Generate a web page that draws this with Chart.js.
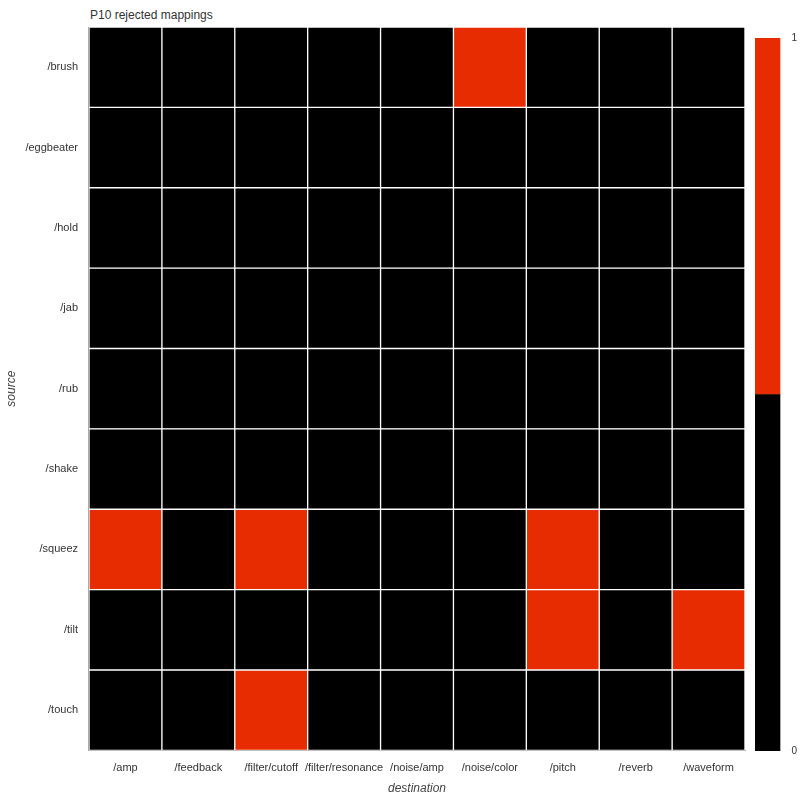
<!DOCTYPE html>
<html><head><meta charset="utf-8">
<script src="https://cdn.jsdelivr.net/npm/chart.js@4/dist/chart.umd.min.js"></script>
<style>
body{margin:0;background:#fff;font-family:"Liberation Sans",Arial,sans-serif}
#wrap{position:absolute;left:0;top:0;width:750px;height:800px}
#cbWrap{position:absolute;left:745px;top:0;width:55px;height:800px}
#title{position:absolute;left:90px;top:8px;font-size:12px;color:#333}
</style></head><body>
<div id="title">P10 rejected mappings</div>
<div id="wrap"><canvas id="c"></canvas></div>
<div id="cbWrap"><canvas id="cb"></canvas></div>
<script>
const sources = ['/brush','/eggbeater','/hold','/jab','/rub','/shake','/squeez','/tilt','/touch'];
const destinations = ['/amp','/feedback','/filter/cutoff','/filter/resonance','/noise/amp','/noise/color','/pitch','/reverb','/waveform'];
// rows = sources, columns = destinations
const rejected = [
  [0,0,0,0,0,1,0,0,0],
  [0,0,0,0,0,0,0,0,0],
  [0,0,0,0,0,0,0,0,0],
  [0,0,0,0,0,0,0,0,0],
  [0,0,0,0,0,0,0,0,0],
  [0,0,0,0,0,0,0,0,0],
  [1,0,1,0,0,0,1,0,0],
  [0,0,0,0,0,0,1,0,1],
  [0,0,1,0,0,0,0,0,0]
];
const RED = '#e62c00', BLACK = '#000000';
const tickFont = {family:'"Liberation Sans", Arial', size:11};

const datasets = destinations.map((d, j) => ({
  label: d,
  data: sources.map(() => 1),
  backgroundColor: sources.map((s, i) => rejected[i][j] ? RED : BLACK),
  borderColor: '#ffffff', borderWidth: 1, borderSkipped: false,
  barPercentage: 1, categoryPercentage: 1
}));

new Chart(document.getElementById('c'), {
  type: 'bar',
  data: {labels: sources, datasets},
  options: {
    indexAxis: 'y', responsive: true, maintainAspectRatio: false, animation: false,
    layout: {padding: {top: 27, right: 5, left: 0, bottom: 0}},
    plugins: {legend: {display: false}, tooltip: {enabled: false}},
    scales: {
      x: {stacked: true, min: 0, max: 9, grid: {display: false}, border: {color: '#aaa'},
        afterBuildTicks: ax => { ax.ticks = destinations.map((d, j) => ({value: j + 0.5})); },
        ticks: {autoSkip: false, maxRotation: 0, color: '#333', font: tickFont,
          callback: (v, i) => destinations[i]},
        title: {display: true, text: 'destination', color: '#444', font: {size: 12, style: 'italic'}}},
      y: {stacked: true, grid: {display: false}, border: {color: '#aaa'},
        ticks: {color: '#333', font: tickFont},
        title: {display: true, text: 'source', color: '#444', font: {size: 12, style: 'italic'}}}
    }
  }
});

const cbLevels = [0, 1];
const cbColors = [BLACK, RED];
new Chart(document.getElementById('cb'), {
  type: 'bar',
  data: {labels: [''], datasets: cbColors.map((c, k) => ({
    data: [0.5], backgroundColor: c, barPercentage: 1, categoryPercentage: 1}))},
  options: {
    responsive: true, maintainAspectRatio: false, animation: false,
    layout: {padding: {top: 38, bottom: 49, left: 10, right: 0}},
    plugins: {legend: {display: false}, tooltip: {enabled: false}},
    scales: {
      x: {stacked: true, display: false},
      y: {stacked: true, position: 'right', min: 0, max: 1, grid: {display: false},
        border: {display: false},
        afterBuildTicks: ax => { ax.ticks = cbLevels.map(v => ({value: v})); },
        ticks: {color: '#333', font: {size: 10}, padding: 3}}
    }
  }
});
</script>
</body></html>
